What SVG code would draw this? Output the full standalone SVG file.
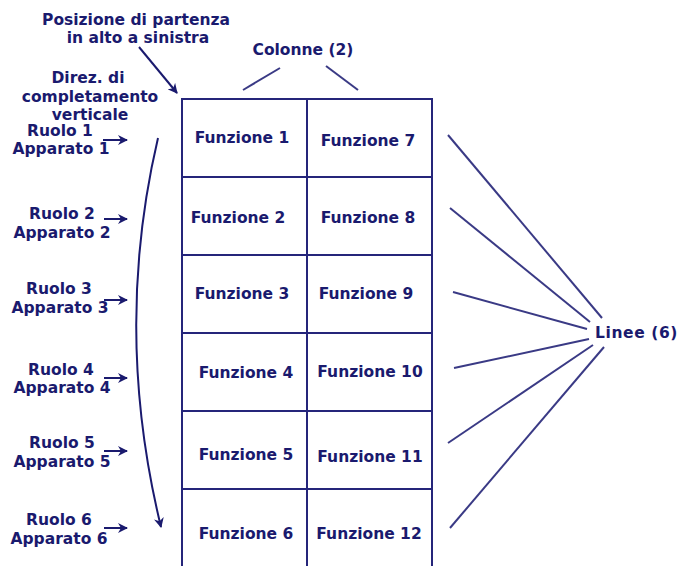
<svg xmlns="http://www.w3.org/2000/svg" width="680" height="566" viewBox="0 0 680 566">
<style>
text{font-family:"DejaVu Sans","Liberation Sans",sans-serif;font-weight:bold;font-size:15.5px;fill:#1a1a6e;text-anchor:middle}
.cell{fill:#fff;stroke:#25257a;stroke-width:2}
.ln{stroke:#3a3a85;stroke-width:2;fill:none}
.ar{stroke:#1a1a6e;stroke-width:2;fill:none;marker-end:url(#ah)}
</style>
<defs>
<marker id="ah" viewBox="0 0 10 10" refX="9" refY="5" markerWidth="5" markerHeight="5" orient="auto" markerUnits="strokeWidth">
<path d="M0,0 L10,5 L0,10 L3,5 Z" fill="#1a1a6e"/>
</marker>
</defs>
<rect width="680" height="566" fill="#fff"/>
<g id="grid">
<g id="f1"><rect class="cell" x="182" y="99" width="125" height="78"/><text x="242" y="143">Funzione 1</text></g>
<g id="f2"><rect class="cell" x="182" y="177" width="125" height="78"/><text x="238" y="223">Funzione 2</text></g>
<g id="f3"><rect class="cell" x="182" y="255" width="125" height="78"/><text x="242" y="299">Funzione 3</text></g>
<g id="f4"><rect class="cell" x="182" y="333" width="125" height="78"/><text x="246" y="378">Funzione 4</text></g>
<g id="f5"><rect class="cell" x="182" y="411" width="125" height="78"/><text x="246" y="460">Funzione 5</text></g>
<g id="f6"><rect class="cell" x="182" y="489" width="125" height="80"/><text x="246" y="539">Funzione 6</text></g>
<g id="f7"><rect class="cell" x="307" y="99" width="125" height="78"/><text x="368" y="146">Funzione 7</text></g>
<g id="f8"><rect class="cell" x="307" y="177" width="125" height="78"/><text x="368" y="223">Funzione 8</text></g>
<g id="f9"><rect class="cell" x="307" y="255" width="125" height="78"/><text x="366" y="299">Funzione 9</text></g>
<g id="f10"><rect class="cell" x="307" y="333" width="125" height="78"/><text x="370" y="377">Funzione 10</text></g>
<g id="f11"><rect class="cell" x="307" y="411" width="125" height="78"/><text x="370" y="462">Funzione 11</text></g>
<g id="f12"><rect class="cell" x="307" y="489" width="125" height="80"/><text x="369" y="539">Funzione 12</text></g>
</g>
<g id="labels">
<text x="136" y="25">Posizione di partenza</text>
<text x="138" y="43">in alto a sinistra</text>
<text x="303" y="55">Colonne (2)</text>
<text x="88" y="83">Direz. di</text>
<text x="90" y="102">completamento</text>
<text x="90" y="120">verticale</text>
<text x="60" y="136">Ruolo 1</text><text x="61" y="154">Apparato 1</text>
<text x="62" y="219">Ruolo 2</text><text x="62" y="238">Apparato 2</text>
<text x="59" y="294">Ruolo 3</text><text x="60" y="313">Apparato 3</text>
<text x="61" y="375">Ruolo 4</text><text x="62" y="393">Apparato 4</text>
<text x="62" y="448">Ruolo 5</text><text x="62" y="467">Apparato 5</text>
<text x="59" y="525">Ruolo 6</text><text x="59" y="544">Apparato 6</text>
<text x="595" y="338" style="text-anchor:start;letter-spacing:0.6px">Linee (6)</text>
</g>
<g id="connectors">
<path class="ar" d="M139,47 L177,93"/>
<path class="ar" d="M158,138 Q113,330 161,527"/>
<path class="ar" d="M103,140 L127,140"/>
<path class="ar" d="M104,219 L127,219"/>
<path class="ar" d="M104,300 L127,300"/>
<path class="ar" d="M104,378 L127,378"/>
<path class="ar" d="M104,451 L127,451"/>
<path class="ar" d="M104,528 L127,528"/>
<path class="ln" d="M243,90 L280,68"/>
<path class="ln" d="M326,66 L358,90"/>
<path class="ln" d="M448,135 L602,318"/>
<path class="ln" d="M450,208 L590,322"/>
<path class="ln" d="M453,292 L587,329"/>
<path class="ln" d="M454,368 L589,339"/>
<path class="ln" d="M448,443 L593,345"/>
<path class="ln" d="M450,528 L604,347"/>
</g>
</svg>
